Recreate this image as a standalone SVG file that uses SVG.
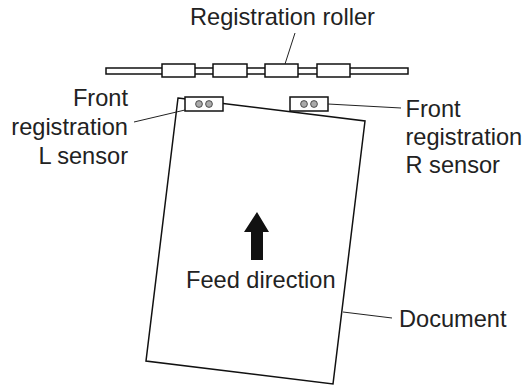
<svg xmlns="http://www.w3.org/2000/svg" width="527" height="385" viewBox="0 0 527 385">
<style>
text{font-family:"Liberation Sans",Arial,sans-serif;font-size:23.6px;fill:#222}
.o{fill:#fff;stroke:#111;stroke-width:1.5}
.l{fill:none;stroke:#222;stroke-width:1}
.d{fill:#aaa;stroke:#333;stroke-width:.8}
</style>
<rect width="527" height="385" fill="#fff"/>
<g id="document"><path class="o" d="M178 98L365 121L333 384L146 361Z"/></g>
<g id="roller">
<rect class="o" x="106" y="68" width="302" height="6"/>
<rect class="o" x="162" y="64" width="33" height="13"/>
<rect class="o" x="213" y="64" width="34" height="13"/>
<rect class="o" x="265" y="64" width="33" height="13"/>
<rect class="o" x="317" y="64" width="33" height="13"/>
</g>
<g id="sensor-l"><rect class="o" x="185" y="97" width="38" height="14"/><circle class="d" cx="199" cy="104" r="3.4"/><circle class="d" cx="209" cy="104" r="3.4"/></g>
<g id="sensor-r"><rect class="o" x="290" y="97" width="38" height="14"/><circle class="d" cx="304" cy="104" r="3.4"/><circle class="d" cx="314" cy="104" r="3.4"/></g>
<g id="connectors">
<path class="l" d="M295 33L285 64M134 122L185 110M328 104L401 108M343 312L392 318"/>
</g>
<g id="arrow"><path fill="#111" d="M257 212L269 232H263V260H251V232H244Z"/></g>
<g id="labels">
<text x="190" y="25">Registration roller</text>
<text x="128" y="106" text-anchor="end">Front</text>
<text x="128" y="135" text-anchor="end">registration</text>
<text x="128" y="164" text-anchor="end">L sensor</text>
<text x="405.500" y="117">Front</text>
<text x="405.500" y="145">registration</text>
<text x="405.500" y="173">R sensor</text>
<text x="186" y="288">Feed direction</text>
<text x="399" y="327">Document</text>
</g>
</svg>
